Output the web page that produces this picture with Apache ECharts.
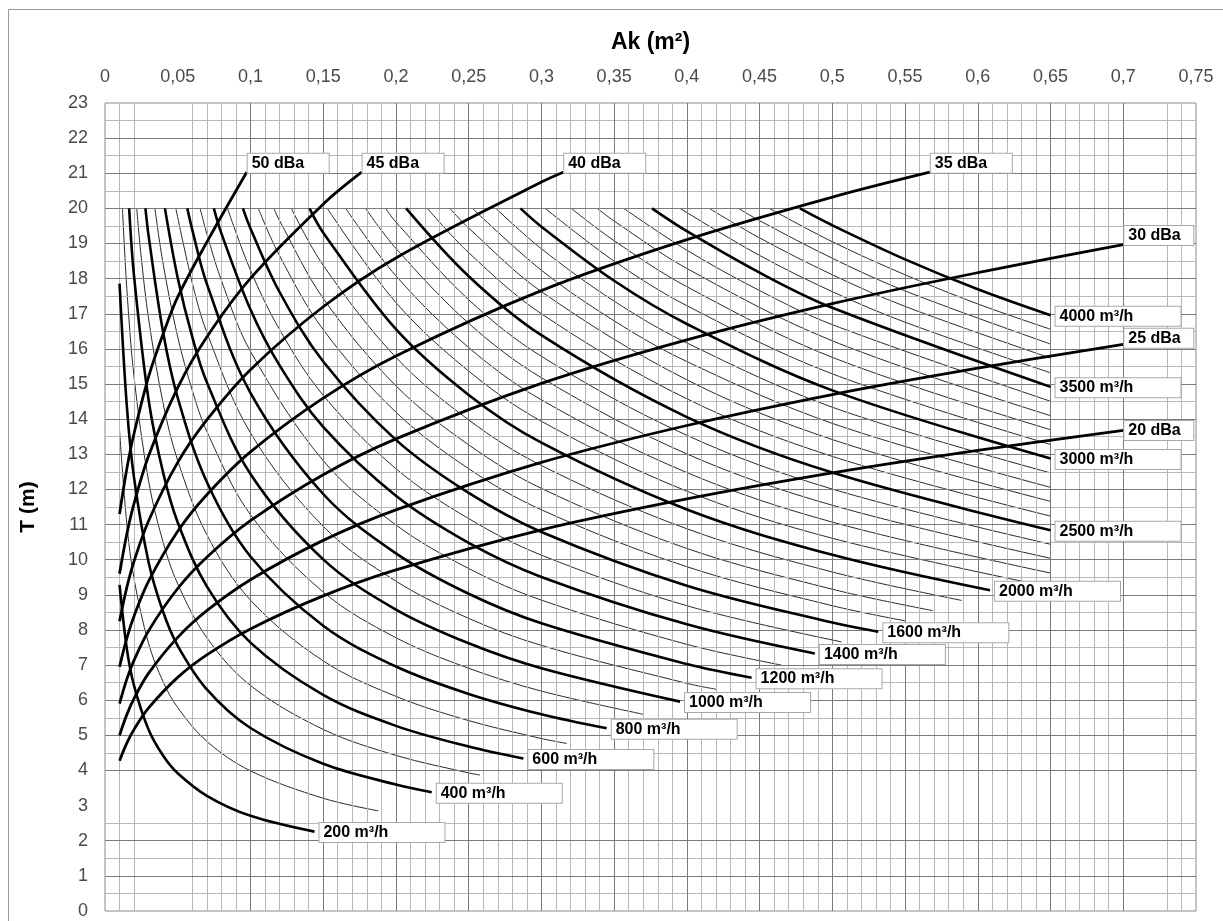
<!DOCTYPE html>
<html><head><meta charset="utf-8">
<script src="https://cdn.jsdelivr.net/npm/echarts@6/dist/echarts.min.js"></script>
<style>html,body{margin:0;padding:0;background:#fff}#c{width:1223px;height:921px}</style>
</head><body><div id="c"></div>
<script>
// ---- tick labels ----
const xTickLabels = ['0','0,05','0,1','0,15','0,2','0,25','0,3','0,35','0,4','0,45','0,5','0,55','0,6','0,65','0,7','0,75'];
const yTickLabels = ['0','1','2','3','4','5','6','7','8','9','10','11','12','13','14','15','16','17','18','19','20','21','22','23'];

// ---- air flow curves: [Ak (m²), T (m)] ----
const q200 = [[0.01,9.28],[0.015,7.47],[0.02,6.41],[0.03,5.16],[0.04,4.42],[0.05,3.92],[0.07,3.28],[0.1,2.71],[0.144,2.26]];
const q300 = [[0.01,13.69],[0.015,11.02],[0.02,9.45],[0.03,7.61],[0.04,6.52],[0.05,5.79],[0.07,4.83],[0.1,3.99],[0.15,3.21],[0.1879,2.85]];
const q400 = [[0.01,17.86],[0.015,14.38],[0.02,12.32],[0.03,9.92],[0.04,8.51],[0.05,7.55],[0.07,6.31],[0.1,5.21],[0.15,4.19],[0.2,3.6],[0.2246,3.38]];
const q500 = [[0.012,20],[0.015,17.72],[0.02,15.19],[0.03,12.23],[0.04,10.49],[0.05,9.31],[0.07,7.78],[0.1,6.42],[0.15,5.17],[0.2,4.43],[0.25,3.93],[0.2578,3.87]];
const q600 = [[0.0166,20],[0.02,18.06],[0.03,14.54],[0.04,12.47],[0.05,11.06],[0.07,9.24],[0.1,7.64],[0.15,6.15],[0.2,5.27],[0.25,4.68],[0.2876,4.34]];
const q700 = [[0.0218,20],[0.025,18.57],[0.03,16.85],[0.04,14.44],[0.05,12.82],[0.07,10.71],[0.1,8.85],[0.15,7.12],[0.2,6.11],[0.25,5.42],[0.3,4.91],[0.3174,4.77]];
const q800 = [[0.0278,20],[0.03,19.21],[0.04,16.46],[0.05,14.61],[0.07,12.21],[0.1,10.09],[0.15,8.12],[0.2,6.96],[0.25,6.18],[0.3,5.6],[0.3449,5.2]];
const q900 = [[0.0343,20],[0.04,18.41],[0.05,16.34],[0.06,14.82],[0.07,13.65],[0.1,11.28],[0.15,9.08],[0.2,7.78],[0.25,6.91],[0.3,6.26],[0.37,5.6]];
const q1000 = [[0.0412,20],[0.05,18.02],[0.06,16.34],[0.07,15.05],[0.1,12.44],[0.15,10.01],[0.2,8.58],[0.25,7.62],[0.3,6.91],[0.3953,5.96]];
const q1100 = [[0.0487,20],[0.06,17.88],[0.07,16.47],[0.1,13.61],[0.15,10.95],[0.2,9.39],[0.25,8.33],[0.3,7.56],[0.4,6.48],[0.4204,6.31]];
const q1200 = [[0.0566,20],[0.06,19.39],[0.07,17.85],[0.1,14.75],[0.15,11.87],[0.2,10.18],[0.25,9.03],[0.3,8.19],[0.4,7.03],[0.4445,6.64]];
const q1300 = [[0.0654,20],[0.07,19.28],[0.08,17.95],[0.1,15.93],[0.15,12.82],[0.2,10.99],[0.25,9.75],[0.3,8.85],[0.4,7.59],[0.465,7.0]];
const q1400 = [[0.0748,20],[0.08,19.29],[0.1,17.12],[0.12,15.53],[0.15,13.78],[0.2,11.82],[0.25,10.48],[0.3,9.51],[0.4,8.16],[0.488,7.33]];
const q1500 = [[0.0842,20],[0.1,18.24],[0.12,16.55],[0.15,14.68],[0.2,12.59],[0.25,11.17],[0.3,10.13],[0.4,8.69],[0.5064,7.66]];
const q1600 = [[0.0948,20],[0.1,19.43],[0.12,17.62],[0.15,15.64],[0.2,13.41],[0.25,11.9],[0.3,10.79],[0.4,9.26],[0.5,8.21],[0.5316,7.95]];
const q1700 = [[0.1054,20],[0.12,18.65],[0.15,16.55],[0.2,14.2],[0.25,12.59],[0.3,11.42],[0.4,9.8],[0.5,8.69],[0.55,8.26]];
const q1800 = [[0.1161,20],[0.12,19.65],[0.15,17.44],[0.2,14.95],[0.25,13.27],[0.3,12.03],[0.4,10.32],[0.5,9.16],[0.569,8.55]];
const q1900 = [[0.1281,20],[0.15,18.38],[0.2,15.76],[0.25,13.98],[0.3,12.68],[0.4,10.88],[0.5,9.65],[0.589,8.84]];
const q2000 = [[0.1406,20],[0.15,19.31],[0.2,16.56],[0.25,14.69],[0.3,13.33],[0.4,11.43],[0.5,10.14],[0.6084,9.13]];
const q2100 = [[0.1528,20],[0.2,17.32],[0.25,15.37],[0.3,13.94],[0.4,11.95],[0.5,10.61],[0.65,9.22]];
const q2200 = [[0.1655,20],[0.2,18.08],[0.25,16.04],[0.3,14.55],[0.4,12.48],[0.5,11.07],[0.65,9.62]];
const q2300 = [[0.1791,20],[0.2,18.86],[0.25,16.73],[0.3,15.18],[0.4,13.01],[0.5,11.55],[0.65,10.04]];
const q2400 = [[0.1929,20],[0.2,19.61],[0.25,17.4],[0.3,15.79],[0.4,13.54],[0.5,12.01],[0.65,10.44]];
const q2500 = [[0.207,20],[0.25,18.07],[0.3,16.39],[0.4,14.06],[0.5,12.48],[0.65,10.84]];
const q2600 = [[0.2216,20],[0.25,18.74],[0.3,17.0],[0.4,14.58],[0.5,12.94],[0.65,11.24]];
const q2700 = [[0.2371,20],[0.25,19.44],[0.3,17.63],[0.4,15.12],[0.5,13.42],[0.65,11.66]];
const q2800 = [[0.2526,20],[0.3,18.24],[0.35,16.8],[0.4,15.64],[0.5,13.88],[0.65,12.06]];
const q2900 = [[0.2687,20],[0.3,18.85],[0.35,17.36],[0.4,16.17],[0.5,14.34],[0.65,12.47]];
const q3000 = [[0.2856,20],[0.3,19.48],[0.35,17.94],[0.4,16.71],[0.5,14.82],[0.65,12.88]];
const q3100 = [[0.3026,20],[0.35,18.5],[0.4,17.23],[0.5,15.29],[0.65,13.28]];
const q3200 = [[0.3205,20],[0.35,19.08],[0.4,17.77],[0.5,15.76],[0.65,13.7]];
const q3300 = [[0.3384,20],[0.35,19.64],[0.4,18.29],[0.5,16.23],[0.65,14.1]];
const q3400 = [[0.3566,20],[0.4,18.81],[0.45,17.66],[0.5,16.69],[0.65,14.51]];
const q3500 = [[0.376,20],[0.4,19.35],[0.45,18.17],[0.5,17.17],[0.65,14.92]];
const q3600 = [[0.3953,20],[0.45,18.66],[0.5,17.63],[0.55,16.76],[0.65,15.32]];
const q3700 = [[0.4154,20],[0.45,19.16],[0.5,18.11],[0.55,17.21],[0.65,15.74]];
const q3800 = [[0.4355,20],[0.45,19.65],[0.5,18.58],[0.55,17.65],[0.65,16.14]];
const q3900 = [[0.4567,20],[0.5,19.05],[0.55,18.11],[0.6,17.28],[0.65,16.56]];
const q4000 = [[0.4777,20],[0.5,19.52],[0.55,18.55],[0.6,17.7],[0.65,16.96]];

const flowRates = [200,300,400,500,600,700,800,900,1000,1100,1200,1300,1400,1500,1600,1700,1800,1900,2000,
  2100,2200,2300,2400,2500,2600,2700,2800,2900,3000,3100,3200,3300,3400,3500,3600,3700,3800,3900,4000];
const flowCurves = [q200,q300,q400,q500,q600,q700,q800,q900,q1000,q1100,q1200,q1300,q1400,q1500,q1600,q1700,q1800,q1900,q2000,
  q2100,q2200,q2300,q2400,q2500,q2600,q2700,q2800,q2900,q3000,q3100,q3200,q3300,q3400,q3500,q3600,q3700,q3800,q3900,q4000];
const labelledFlows = [200,400,600,800,1000,1200,1400,1600,2000,2500,3000,3500,4000];

// ---- sound level curves: [Ak (m²), T (m)] ----
const d50 = [[0.01,11.3],[0.015,12.59],[0.02,13.6],[0.03,15.21],[0.04,16.43],[0.05,17.48],[0.07,19.04],[0.0974,21.03]];
const d45 = [[0.01,9.6],[0.015,10.73],[0.02,11.6],[0.03,12.96],[0.05,14.9],[0.07,16.34],[0.1,18.01],[0.15,20.12],[0.1764,21.03]];
const d40 = [[0.01,8.25],[0.015,9.21],[0.02,9.96],[0.03,11.11],[0.05,12.77],[0.07,13.98],[0.1,15.41],[0.15,17.2],[0.2,18.59],[0.3,20.75],[0.315,21.03]];
const d35 = [[0.01,6.95],[0.015,7.77],[0.02,8.4],[0.03,9.39],[0.05,10.81],[0.07,11.85],[0.1,13.07],[0.15,14.6],[0.2,15.8],[0.3,17.66],[0.4,19.11],[0.5,20.32],[0.567,21.03]];
const d30 = [[0.01,5.9],[0.015,6.6],[0.02,7.14],[0.03,7.98],[0.05,9.18],[0.07,10.07],[0.1,11.11],[0.15,12.42],[0.2,13.44],[0.3,15.02],[0.4,16.26],[0.5,17.29],[0.6,18.17],[0.7,18.97]];
const d25 = [[0.01,5.0],[0.015,5.59],[0.02,6.05],[0.03,6.77],[0.05,7.79],[0.07,8.55],[0.1,9.43],[0.15,10.55],[0.2,11.42],[0.3,12.77],[0.4,13.82],[0.5,14.7],[0.6,15.45],[0.7,16.13]];
const d20 = [[0.01,4.28],[0.015,4.78],[0.02,5.17],[0.03,5.78],[0.05,6.65],[0.07,7.29],[0.1,8.03],[0.15,8.97],[0.2,9.71],[0.3,10.85],[0.4,11.73],[0.5,12.47],[0.6,13.11],[0.7,13.68]];
const dbaLevels = [50,45,40,35,30,25,20];
const dbaCurves = [d50,d45,d40,d35,d30,d25,d20];

// ---- grid lines (style) ----
const xMajorGrid = [], xMinorGrid = [], yMajorGrid = [], yMinorGrid = [];
for (let i = 1; i < 75; i++) {
  if (i % 5 === 0) { if (i !== 5) xMajorGrid.push(i / 100); continue; }
  if ([3, 4, 71, 72].indexOf(i) >= 0) continue;
  xMinorGrid.push(i / 100);
}
for (let i = 1; i < 23; i++) { if (i !== 3) yMajorGrid.push(i); }
for (let i = 0; i < 23; i++) { if (i !== 3) yMinorGrid.push(i + 0.5); }

const chart = echarts.init(document.getElementById('c'));
const FONT = '"Liberation Sans", Arial, sans-serif';

const series = [];
series.push({
  type: 'line', data: [], silent: true, z: 1,
  markLine: { silent: true, animation: false, symbol: ['none', 'none'], label: { show: false },
    lineStyle: { color: '#b8b8b8', width: 1, type: 'solid' },
    data: xMinorGrid.map(v => ({ xAxis: v })).concat(yMinorGrid.map(v => ({ yAxis: v }))) }
});
series.push({
  type: 'line', data: [], silent: true, z: 1,
  markLine: { silent: true, animation: false, symbol: ['none', 'none'], label: { show: false },
    lineStyle: { color: '#7a7a7a', width: 1, type: 'solid' },
    data: xMajorGrid.map(v => ({ xAxis: v })).concat(yMajorGrid.map(v => ({ yAxis: v }))) }
});

const boxLabel = (text, w, offY) => ({
  show: true, formatter: text, fontFamily: FONT, fontWeight: 'bold', fontSize: 16, color: '#000',
  backgroundColor: '#fff', borderColor: '#a8a8a8', borderWidth: 1, padding: [2, 3, 1, 4],
  width: w, distance: 5, offset: [0, offY], align: 'left'
});

flowRates.forEach((q, i) => {
  const thick = labelledFlows.indexOf(q) >= 0;
  series.push({
    type: 'line', data: flowCurves[i], showSymbol: false, symbol: 'none', silent: true,
    smooth: 0.35, z: thick ? 5 : 3,
    lineStyle: { color: thick ? '#000' : '#2a2a2a', width: thick ? 2.6 : 1 },
    endLabel: thick ? boxLabel(q + ' m³/h', 118, 1) : { show: false }
  });
});

const dbaOffsets = { 50: -9, 45: -9, 40: -9, 35: -9, 30: -9, 25: -6, 20: 0 };
const dbaWidths = { 50: 74, 45: 74, 40: 74, 35: 74, 30: 62, 25: 62, 20: 62 };
dbaLevels.forEach((d, i) => {
  const lab = boxLabel(d + ' dBa', dbaWidths[d], dbaOffsets[d]);
  lab.distance = 1;
  series.push({
    type: 'line', data: dbaCurves[i], showSymbol: false, symbol: 'none', silent: true,
    smooth: 0.35, z: 6,
    lineStyle: { color: '#000', width: 2.8 },
    endLabel: lab
  });
});

chart.setOption({
  animation: false,
  backgroundColor: '#fff',
  grid: { left: 105, right: 27, top: 103, bottom: 10, show: true, borderColor: '#8a8a8a', borderWidth: 1, backgroundColor: '#fff' },
  xAxis: {
    type: 'value', position: 'top', min: 0, max: 0.75, interval: 0.05,
    name: 'Ak (m²)', nameLocation: 'middle', nameGap: 49,
    nameTextStyle: { fontFamily: FONT, fontWeight: 'bold', fontSize: 23, color: '#000' },
    axisLine: { show: false }, axisTick: { show: false }, splitLine: { show: false },
    axisLabel: { margin: 17, fontFamily: FONT, fontSize: 18, color: '#4a4a4a',
      formatter: v => xTickLabels[Math.round(v / 0.05)] }
  },
  yAxis: {
    type: 'value', min: 0, max: 23, interval: 1,
    name: 'T (m)', nameLocation: 'middle', nameGap: 66,
    nameTextStyle: { fontFamily: FONT, fontWeight: 'bold', fontSize: 21, color: '#000' },
    axisLine: { show: false }, axisTick: { show: false }, splitLine: { show: false },
    axisLabel: { margin: 17, fontFamily: FONT, fontSize: 18, color: '#4a4a4a',
      formatter: v => yTickLabels[Math.round(v)] }
  },
  graphic: [{ type: 'rect', silent: true, z: -1,
    shape: { x: 8.5, y: 9.5, width: 1240, height: 940 },
    style: { fill: 'none', stroke: '#9a9a9a', lineWidth: 1 } }],
  series: series
});
</script></body></html>
